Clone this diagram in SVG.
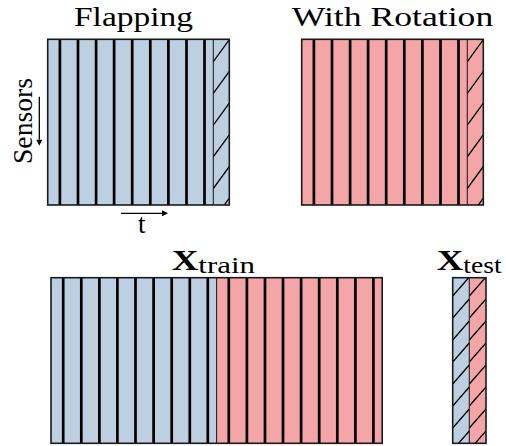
<svg xmlns="http://www.w3.org/2000/svg" width="506" height="446" viewBox="0 0 506 446">
<style>
.lbl{font-family:"Liberation Serif","Times New Roman",serif;fill:#000}
.blue{fill:#bdd0e1}
.red{fill:#f4a5a7}
.border{fill:none;stroke:#1a1a1a;stroke-width:1.6}
.thick{fill:none;stroke:#000;stroke-width:2.7}
.thin{fill:none;stroke:#222;stroke-width:1.1}
.hatch{fill:none;stroke:#000;stroke-width:1.3}
.axis{fill:none;stroke:#000;stroke-width:1.3}
</style>
<defs>
<marker id="ah" viewBox="0 0 10 10" refX="0" refY="5" markerWidth="8" markerHeight="6" markerUnits="userSpaceOnUse" orient="auto">
<path d="M0,0 L10,5 L0,10 z" fill="#000"/>
</marker>
<clipPath id="cf"><rect x="213.3" y="39.3" width="16" height="165.7"/></clipPath>
<clipPath id="cr"><rect x="467.3" y="39.3" width="16" height="165.7"/></clipPath>
<clipPath id="ct"><rect x="452.7" y="277.7" width="33.3" height="165.6"/></clipPath>
</defs>

<g id="flapping">
<text class="lbl" x="74" y="26" font-size="28" textLength="119" lengthAdjust="spacingAndGlyphs">Flapping</text>
<rect class="blue" x="47.7" y="39.3" width="181.6" height="165.7"/>
<path class="thick" d="M59.9 39.3V205M78 39.3V205M96.1 39.3V205M114.1 39.3V205M132.2 39.3V205M150.3 39.3V205M168.4 39.3V205M186.5 39.3V205M204.5 39.3V205"/>
<path class="thin" d="M213.3 39.3V205"/>
<g clip-path="url(#cf)">
<path class="hatch" d="M213.3 61.7L229.3 39.7M213.3 93.4L229.3 71.4M213.3 125.1L229.3 103.1M213.3 156.8L229.3 134.8M213.3 188.5L229.3 166.5M213.3 220.2L229.3 198.2"/>
</g>
<rect class="border" x="47.7" y="39.3" width="181.6" height="165.7"/>
</g>

<g id="rotation">
<text class="lbl" x="291.7" y="26" font-size="28" textLength="201.6" lengthAdjust="spacingAndGlyphs">With Rotation</text>
<rect class="red" x="301.7" y="39.3" width="181.6" height="165.7"/>
<path class="thick" d="M313.9 39.3V205M332 39.3V205M350.1 39.3V205M368.1 39.3V205M386.2 39.3V205M404.3 39.3V205M422.4 39.3V205M440.5 39.3V205M458.5 39.3V205"/>
<path class="thin" d="M467.3 39.3V205"/>
<g clip-path="url(#cr)">
<path class="hatch" d="M467.3 61.7L483.3 39.7M467.3 93.4L483.3 71.4M467.3 125.1L483.3 103.1M467.3 156.8L483.3 134.8M467.3 188.5L483.3 166.5M467.3 220.2L483.3 198.2"/>
</g>
<rect class="border" x="301.7" y="39.3" width="181.6" height="165.7"/>
</g>

<g id="xtrain">
<text class="lbl" x="171.7" y="270" font-size="29" font-weight="bold" textLength="26.6" lengthAdjust="spacingAndGlyphs">X</text>
<text class="lbl" x="198.3" y="273.3" font-size="23" textLength="56.7" lengthAdjust="spacingAndGlyphs">train</text>
<rect class="blue" x="51" y="277.7" width="165.6" height="165.6"/>
<rect class="red" x="216.6" y="277.7" width="165.6" height="165.6"/>
<path class="thick" d="M63.2 277.7V443.3M81.3 277.7V443.3M99.4 277.7V443.3M117.4 277.7V443.3M135.5 277.7V443.3M153.6 277.7V443.3M171.7 277.7V443.3M189.8 277.7V443.3M207.8 277.7V443.3M228.8 277.7V443.3M246.9 277.7V443.3M265 277.7V443.3M283 277.7V443.3M301.1 277.7V443.3M319.2 277.7V443.3M337.3 277.7V443.3M355.4 277.7V443.3M373.4 277.7V443.3"/>
<path class="thin" d="M216.6 277.7V443.3"/>
<rect class="border" x="51" y="277.7" width="331.2" height="165.6"/>
</g>

<g id="xtest">
<text class="lbl" x="436.7" y="270" font-size="29" font-weight="bold" textLength="26.6" lengthAdjust="spacingAndGlyphs">X</text>
<text class="lbl" x="463.3" y="273.3" font-size="23" textLength="38.4" lengthAdjust="spacingAndGlyphs">test</text>
<rect class="blue" x="452.7" y="277.7" width="16.6" height="165.6"/>
<rect class="red" x="469.3" y="277.7" width="16.7" height="165.6"/>
<g clip-path="url(#ct)">
<path class="hatch" d="M452.7 296L469.3 277M452.7 318L469.3 299M452.7 340L469.3 321M452.7 362L469.3 343M452.7 384L469.3 365M452.7 406L469.3 387M452.7 428L469.3 409M452.7 450L469.3 431M469.3 296L486 277M469.3 318L486 299M469.3 340L486 321M469.3 362L486 343M469.3 384L486 365M469.3 406L486 387M469.3 428L486 409M469.3 450L486 431"/>
</g>
<path class="thin" d="M469.3 277.7V443.3"/>
<rect class="border" x="452.7" y="277.7" width="33.3" height="165.6"/>
</g>

<g id="connectors">
<line class="axis" x1="39.3" y1="96.7" x2="39.3" y2="139.7" marker-end="url(#ah)"/>
<line class="axis" x1="121" y1="213.3" x2="162" y2="213.3" marker-end="url(#ah)"/>
</g>

<g id="axis-labels">
<text class="lbl" font-size="27" text-anchor="middle" textLength="86" lengthAdjust="spacingAndGlyphs" transform="translate(31.5 121) rotate(-90)">Sensors</text>
<text class="lbl" x="141.7" y="233" font-size="27" text-anchor="middle">t</text>
</g>
</svg>
